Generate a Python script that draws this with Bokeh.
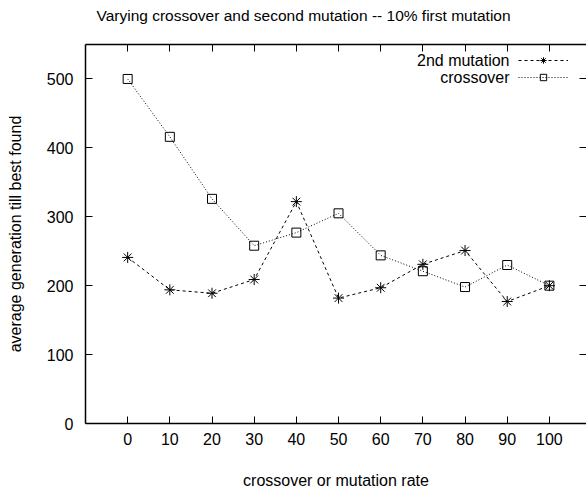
from bokeh.plotting import figure
from bokeh.models import LinearAxis, Range1d, Legend, LegendItem, Label, FixedTicker
from bokeh.embed import file_html
from bokeh.resources import INLINE

rates = [0, 10, 20, 30, 40, 50, 60, 70, 80, 90, 100]
crossover = [500, 416, 326, 258, 277, 305, 244, 221, 198, 230, 200]
mutation2 = [241, 194, 189, 209, 322, 182, 197, 231, 251, 177, 200]
x_ticks = [0, 10, 20, 30, 40, 50, 60, 70, 80, 90, 100]
y_ticks = [0, 100, 200, 300, 400, 500]
title_text = "Varying crossover and second mutation -- 10% first mutation"
series_names = ["2nd mutation", "crossover"]

FONT = "Liberation Sans"
FS = "16px"

p = figure(width=586, height=491, output_backend="svg", toolbar_location=None,
           x_range=Range1d(-10, 108.8), y_range=Range1d(0, 550),
           min_border_left=85, min_border_right=0, min_border_top=44, min_border_bottom=68,
           title=title_text,
           x_axis_label="crossover or mutation rate",
           y_axis_label="average generation till best found")
p.grid.visible = False
p.outline_line_color = None
p.background_fill_color = "white"
p.border_fill_color = "white"

p.title.align = "left"
p.title.vertical_align = "bottom"
p.title.offset = 11
p.title.standoff = 4
p.title.padding = dict(left=0, right=0, top=0, bottom=19)
p.title.text_font = FONT
p.title.text_font_size = "15.5px"
p.title.text_font_style = "normal"
p.title.text_color = "black"


def style(ax, ticks, show_labels=True):
    ax.ticker = FixedTicker(ticks=ticks)
    ax.major_tick_in = 7
    ax.major_tick_out = 0
    ax.minor_tick_line_color = None
    ax.major_tick_line_color = "black"
    ax.major_tick_line_width = 1
    ax.axis_line_color = "black"
    ax.axis_line_width = 1.5
    ax.major_label_text_font = FONT
    if show_labels:
        ax.major_label_text_font_size = FS
        ax.major_label_text_color = "black"
    else:
        ax.major_label_text_font_size = "1px"
        ax.major_label_text_color = None
    ax.axis_label_text_font = FONT
    ax.axis_label_text_font_size = FS
    ax.axis_label_text_font_style = "normal"
    ax.axis_label_text_color = "black"


xa = p.xaxis[0]
style(xa, x_ticks)
xa.major_label_standoff = 9
xa.axis_label_standoff = 24

ya = p.yaxis[0]
style(ya, y_ticks)
ya.major_label_standoff = 12
ya.axis_label_standoff = 20

top = LinearAxis()
style(top, x_ticks, show_labels=False)
top.major_label_standoff = 0
p.add_layout(top, "above")

right = LinearAxis()
style(right, y_ticks, show_labels=False)
right.axis_line_color = None
right.major_label_standoff = 0
p.add_layout(right, "right")

l1 = p.line(rates, mutation2, line_color="black", line_width=1, line_dash="3 3")
s1 = p.scatter(rates, mutation2, marker="asterisk", size=11, line_color="black", line_width=1)
l2 = p.line(rates, crossover, line_color="black", line_width=1, line_dash="1 2")
s2 = p.scatter(rates, crossover, marker="square", size=9, fill_color=None,
               line_color="black", line_width=1)

legend = Legend(items=[LegendItem(label=" ", renderers=[l1, s1]),
                       LegendItem(label=" ", renderers=[l2, s2])],
                location=(433, 338), glyph_width=50, glyph_height=16, spacing=1,
                padding=0, margin=0, label_standoff=0, label_width=0,
                label_text_font_size="1px", label_text_color=None,
                border_line_color=None, background_fill_alpha=0)
p.add_layout(legend)

for txt, yy in zip(series_names, [363, 346]):
    p.add_layout(Label(x=424, y=yy, x_units="screen", y_units="screen", text=txt,
                       text_align="right", text_baseline="middle", text_font=FONT,
                       text_font_size=FS, text_color="black"))

open("out.html", "w").write(file_html(p, INLINE))
